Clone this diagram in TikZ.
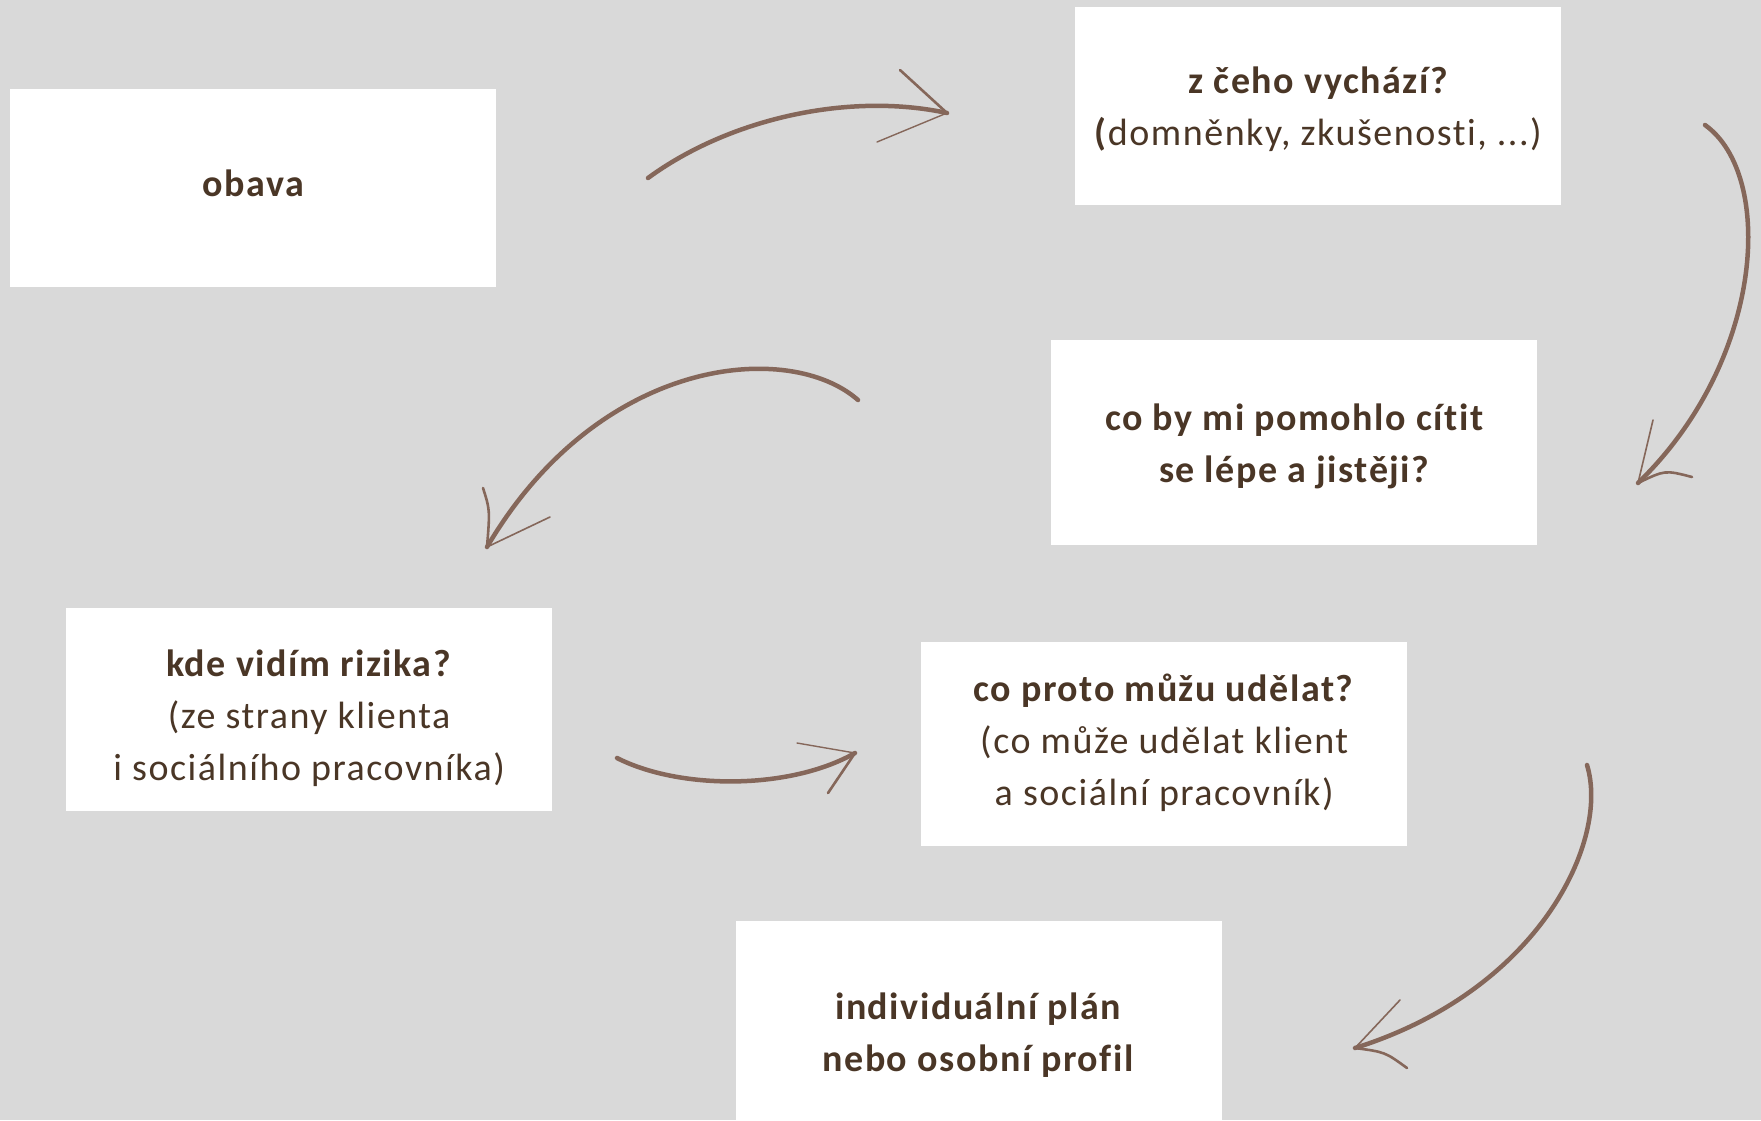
\documentclass[tikz,border=0pt]{standalone}
\usepackage{fontspec}
\setmainfont{Carlito}[LetterSpace=4,Ligatures={NoCommon}]
\definecolor{bg}{HTML}{D9D9D9}
\definecolor{txt}{HTML}{4A3626}
\definecolor{arr}{HTML}{85675A}
\begin{document}
\begin{tikzpicture}[x=1pt,y=-1pt,
  card/.style={fill=white,draw=none,minimum width=486pt,minimum height=198pt,anchor=north west,inner sep=0pt},
  lbl/.style={text=txt,align=center,font=\fontsize{38}{52}\selectfont},
  stroke/.style={draw=arr,line width=4.5pt,line cap=round},
  barb/.style={draw=arr,line width=2.6pt,line cap=round}]
\fill[bg] (0,0) rectangle (1761,1120);
\useasboundingbox (0,0) rectangle (1761,1120);
% cards
\node[card] (b1) at (10,89) {};
\node[card] (b2) at (1075,7) {};
\node[card,minimum height=205pt] (b3) at (1051,340) {};
\node[card,minimum height=203pt] (b4) at (66,608) {};
\node[card,minimum height=204pt] (b5) at (921,642) {};
\node[card,minimum height=230pt] (b6) at (736,921) {};
% texts
\node[lbl] (t1) at ([yshift=5pt]b1.center) {\bfseries obava};
\node[lbl] (t2) at ([yshift=-3pt]b2.center) {\bfseries z čeho vychází?\\\textbf{(}domněnky, zkušenosti, ...)};
\node[lbl] (t3) at ([yshift=-4pt]b3.center) {\bfseries co by mi pomohlo cítit\\\bfseries se lépe a jistěji?};
\node[lbl] (t4) at ([yshift=-9pt]b4.center) {\textbf{kde vidím rizika?}\\(ze strany klienta\\i sociálního pracovníka)};
\node[lbl] (t5) at ([yshift=1pt]b5.center) {\textbf{co proto můžu udělat?}\\(co může udělat klient\\a sociální pracovník)};
\node[lbl] (t6) at (978,1035) {\bfseries individuální plán\\\bfseries nebo osobní profil};
% arrow 1
\coordinate (a1s) at (648,178); \coordinate (a1t) at (947,113);
\coordinate (a1u) at (900,70); \coordinate (a1l) at (877,142);
\draw[stroke] (a1s) .. controls (730,118) and (850,92) .. (a1t);
\draw[barb] (a1u) -- (a1t); \draw[barb,line width=1.4pt] (a1l) -- (a1t);
% arrow 2
\coordinate (a2s) at (1705,125); \coordinate (a2t) at (1638,483);
\coordinate (a2u) at (1653,420); \coordinate (a2l) at (1692,477);
\draw[stroke] (a2s) .. controls (1775,175) and (1765,360) .. (a2t);
\draw[barb,line width=1.6pt] (a2u) -- (a2t); \draw[barb] (a2l) .. controls (1665,470) .. (a2t);
% arrow 3
\coordinate (a3s) at (858,400); \coordinate (a3t) at (487,547);
\coordinate (a3u) at (483,488); \coordinate (a3l) at (550,517);
\draw[stroke] (a3s) .. controls (790,340) and (600,355) .. (a3t);
\draw[barb] (a3u) .. controls (490,510) .. (a3t); \draw[barb,line width=1.6pt] (a3l) -- (a3t);
% arrow 4
\coordinate (a4s) at (617,758); \coordinate (a4t) at (855,753);
\coordinate (a4u) at (797,743); \coordinate (a4l) at (828,793);
\draw[stroke] (a4s) .. controls (680,790) and (790,790) .. (a4t);
\draw[barb,line width=1.4pt] (a4u) -- (a4t); \draw[barb] (a4l) -- (a4t);
% arrow 5
\coordinate (a5s) at (1587,765); \coordinate (a5t) at (1355,1048);
\coordinate (a5u) at (1400,1000); \coordinate (a5l) at (1407,1068);
\draw[stroke] (a5s) .. controls (1610,840) and (1540,990) .. (a5t);
\draw[barb,line width=1.6pt] (a5u) -- (a5t); \draw[barb] (a5l) .. controls (1385,1052) .. (a5t);
\end{tikzpicture}
\end{document}
